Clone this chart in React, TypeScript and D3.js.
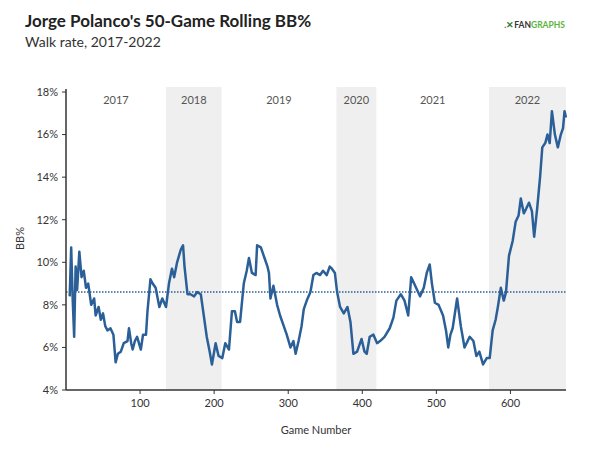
import * as d3 from 'd3'

const games = [5, 7, 9, 11, 13, 15, 18, 21, 24, 27, 30, 34, 38, 40, 44, 47, 50, 53, 56, 60, 64, 67, 70, 74, 78, 83, 85, 88, 90, 93, 96, 101, 104, 108, 110, 114, 117, 121, 126, 130, 135, 139, 143, 146, 150, 155, 158, 160, 164, 168, 173, 177, 182, 186, 190, 194, 197, 202, 206, 211, 215, 220, 224, 228, 231, 235, 240, 244, 247, 251, 256, 258, 263, 268, 272, 274, 276, 280, 285, 289, 294, 298, 303, 307, 310, 314, 318, 321, 325, 330, 334, 338, 343, 347, 352, 356, 359, 363, 366, 370, 375, 380, 384, 388, 393, 399, 403, 406, 410, 415, 420, 424, 430, 437, 442, 446, 452, 457, 462, 466, 470, 474, 478, 483, 487, 491, 494, 498, 503, 509, 513, 516, 519, 522, 528, 533, 538, 545, 550, 554, 558, 563, 568, 572, 576, 580, 583, 587, 591, 594, 598, 603, 607, 611, 614, 618, 621, 625, 629, 632, 636, 640, 643, 647, 650, 653, 656, 660, 664, 668, 671, 673, 675]
const bbPct = [8.4, 10.7, 8.3, 6.5, 9.8, 8.7, 10.5, 9.3, 9.6, 8.8, 9.0, 8.0, 8.3, 7.5, 7.9, 7.3, 7.6, 7.0, 6.8, 6.9, 6.6, 5.3, 5.7, 5.8, 6.2, 6.3, 6.9, 6.2, 5.9, 6.3, 6.5, 5.9, 6.6, 6.6, 7.7, 9.2, 9.0, 8.8, 7.9, 8.3, 7.9, 9.0, 9.7, 9.3, 10.0, 10.6, 10.8, 9.8, 8.5, 8.5, 8.4, 8.6, 8.5, 7.5, 6.5, 5.8, 5.2, 6.2, 5.6, 5.5, 6.2, 5.9, 7.7, 7.7, 7.2, 7.2, 9.0, 9.6, 10.2, 9.5, 9.4, 10.8, 10.7, 10.2, 9.8, 9.5, 8.3, 8.9, 8.0, 7.5, 7.0, 6.6, 6.0, 6.3, 5.7, 6.3, 7.0, 7.8, 8.2, 8.6, 9.4, 9.5, 9.4, 9.6, 9.4, 9.8, 9.7, 9.5, 8.6, 7.9, 7.6, 7.9, 7.2, 5.7, 5.8, 6.4, 5.8, 5.7, 6.5, 6.6, 6.2, 6.3, 6.5, 6.9, 7.4, 8.2, 8.5, 8.2, 7.5, 9.3, 9.0, 8.7, 8.4, 8.8, 9.5, 9.9, 9.0, 8.1, 8.0, 7.5, 6.8, 6.0, 6.6, 6.9, 8.3, 7.0, 6.0, 6.5, 6.3, 5.6, 5.8, 5.2, 5.5, 5.5, 6.8, 7.3, 7.9, 8.8, 8.2, 8.6, 10.3, 11.0, 11.9, 12.2, 13.0, 12.3, 12.5, 12.8, 12.4, 11.2, 12.5, 14.0, 15.4, 15.6, 16.0, 15.6, 17.1, 16.0, 15.4, 16.0, 16.3, 17.1, 16.8]
const seasons = ['2017', '2018', '2019', '2020', '2021', '2022']
const seasonBounds = [0, 135, 210, 365, 419, 571, 675]
const xTicks = [100, 200, 300, 400, 500, 600]
const yTicks = [4, 6, 8, 10, 12, 14, 16, 18]
const average = 8.6

const W = 600
const H = 455
const M = { top: 87, right: 34, bottom: 65, left: 66 }
const FONT = 'Lato, "Open Sans", sans-serif'
const LINE = '#2b5f97'
const TEXT = '#333'

export default function App() {
  const w = W - M.left - M.right
  const h = H - M.top - M.bottom
  const x = d3.scaleLinear().domain([0, 675]).range([0, w])
  const y = d3.scaleLinear().domain([4, 18]).range([h, 5])
  const data = games.map((g, i) => [g, bbPct[i]] as [number, number])
  const line = d3.line<[number, number]>().x((d) => x(d[0])).y((d) => y(d[1]))

  return (
    <svg width={W} height={H} style={{ position: 'absolute', left: 0, top: 0, fontFamily: FONT }}>
      <rect width={W} height={H} fill="#fff" />
      <text x={25} y={27} fontSize={17} fontWeight={700} fill="#222">Jorge Polanco's 50-Game Rolling BB%</text>
      <text x={25} y={47} fontSize={14} fill={TEXT}>Walk rate, 2017-2022</text>
      <text x={565} y={28} fontSize={8.5} fontWeight={700} textAnchor="end">
        <tspan fill="#555">.</tspan><tspan fill="#2e7d32">✕</tspan><tspan fill="#333">FAN</tspan><tspan fill="#5bb53b">GRAPHS</tspan>
      </text>
      <g transform={`translate(${M.left},${M.top})`}>
        {seasons.map((s, i) => (
          <g key={s}>
            {i % 2 === 1 && (
              <rect x={x(seasonBounds[i])} y={0} width={x(seasonBounds[i + 1]) - x(seasonBounds[i])} height={h} fill="#efefef" />
            )}
            <text x={(x(seasonBounds[i]) + x(seasonBounds[i + 1])) / 2} y={17} fontSize={11} fill="#555" textAnchor="middle">{s}</text>
          </g>
        ))}
        <line x1={0} x2={w} y1={y(average)} y2={y(average)} stroke={LINE} strokeWidth={1.5} strokeDasharray="1.5,1.5" />
        <path d={line(data) ?? ''} fill="none" stroke={LINE} strokeWidth={2.5} strokeLinejoin="round" />
        <line x1={0} x2={0} y1={y(18) - 3} y2={h} stroke="#333" strokeWidth={1.5} />
        <line x1={0} x2={w} y1={h} y2={h} stroke="#333" strokeWidth={1.5} />
        {yTicks.map((t) => (
          <g key={t} transform={`translate(0,${y(t)})`}>
            <line x1={-4} x2={0} stroke="#333" />
            <text x={-8} dy="0.35em" fontSize={11} fill={TEXT} textAnchor="end">{t}%</text>
          </g>
        ))}
        {xTicks.map((t) => (
          <g key={t} transform={`translate(${x(t)},${h})`}>
            <line y1={0} y2={4} stroke="#333" />
            <text y={17} fontSize={11} fill={TEXT} textAnchor="middle">{t}</text>
          </g>
        ))}
        <text transform={`translate(-42,${h / 2}) rotate(-90)`} fontSize={11} fill={TEXT} textAnchor="middle">BB%</text>
        <text x={w / 2} y={h + 44} fontSize={11} fill={TEXT} textAnchor="middle">Game Number</text>
      </g>
    </svg>
  )
}
